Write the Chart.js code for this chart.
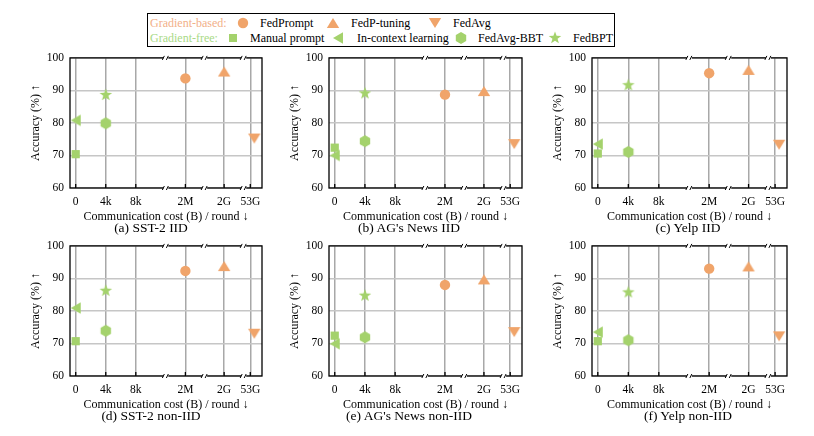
<!DOCTYPE html>
<html><head><meta charset="utf-8">
<script src="https://cdn.jsdelivr.net/npm/chart.js@4.4.0/dist/chart.umd.min.js"></script>
<style>
body{margin:0;width:814px;height:436px;background:#fff;position:relative;overflow:hidden;font-family:'Liberation Serif','Times New Roman',serif;}
canvas.c{position:absolute;}
.cap{position:absolute;font-size:13.5px;line-height:16px;white-space:nowrap;transform:translateX(-50%);color:#000}
#legend{position:absolute;left:147px;top:13px;width:468px;height:34px;border:1px solid #000;box-sizing:border-box}
.lt{position:absolute;font-size:12px;line-height:14px;white-space:nowrap;color:#000}
.lm{position:absolute}
</style></head><body>
<div id="legend"></div>
<script>
// ---- data ----
const methods = ['FedPrompt','FedP-tuning','FedAvg','Manual prompt','In-context learning','FedAvg-BBT','FedBPT'];
const methodGroup = ['Gradient-based','Gradient-based','Gradient-based','Gradient-free','Gradient-free','Gradient-free','Gradient-free'];
const methodCost = ['2M','2G','53G','0','0','4k','4k'];
const costTicks = ['0','4k','8k','2M','2G','53G'];
const accTicks = [60,65,70,75,80,85,90,95,100];
const panelTitles = ['(a) SST-2 IID',"(b) AG's News IID",'(c) Yelp IID','(d) SST-2 non-IID',"(e) AG's News non-IID",'(f) Yelp non-IID'];
const accSST2IID      = [93.7, 95.8, 75.2, 70.4, 80.8, 79.9, 88.6];
const accAGNewsIID    = [88.7, 89.8, 73.5, 72.4, 70.0, 74.4, 89.1];
const accYelpIID      = [95.3, 96.3, 73.3, 70.6, 73.5, 71.1, 91.6];
const accSST2NonIID   = [92.3, 93.8, 73.0, 70.7, 80.9, 73.9, 86.2];
const accAGNewsNonIID = [88.0, 89.7, 73.5, 72.4, 69.9, 71.9, 84.7];
const accYelpNonIID   = [93.0, 93.7, 72.2, 70.7, 73.5, 71.0, 85.7];
const panelData = [accSST2IID, accAGNewsIID, accYelpIID, accSST2NonIID, accAGNewsNonIID, accYelpNonIID];

// ---- axis layout (broken x axis) ----
const costTickPos = [0, 1, 2, 3.65, 4.94, 5.81];
const costBreaks = [3.0, 4.29, 5.59];
const FONT = "'Liberation Serif','Times New Roman',serif";
const ORANGE = '#F0A46A', GREEN = '#A4D26C';
const groupColor = {'Gradient-based': ORANGE, 'Gradient-free': GREEN};
const shapes = ['circle','triUp','triDown','square','triLeft','hex','star'];

function drawShape(ctx, shape, cx, cy, color){
  ctx.fillStyle = color;
  ctx.beginPath();
  if (shape==='circle'){ ctx.arc(cx,cy,5.2,0,Math.PI*2); }
  else if (shape==='square'){ ctx.rect(cx-4,cy-4,8,8); }
  else if (shape==='triUp'){ ctx.moveTo(cx,cy-5); ctx.lineTo(cx+6.2,cy+5); ctx.lineTo(cx-6.2,cy+5); }
  else if (shape==='triDown'){ ctx.moveTo(cx-6.2,cy-5); ctx.lineTo(cx+6.2,cy-5); ctx.lineTo(cx,cy+5); }
  else if (shape==='triLeft'){ ctx.moveTo(cx-5,cy); ctx.lineTo(cx+5,cy-5.7); ctx.lineTo(cx+5,cy+5.7); }
  else if (shape==='hex'){ for(let k=0;k<6;k++){const a=-Math.PI/2+k*Math.PI/3; const px=cx+6*Math.cos(a), py=cy+6*Math.sin(a); k?ctx.lineTo(px,py):ctx.moveTo(px,py);} }
  else if (shape==='star'){ for(let k=0;k<10;k++){const r=k%2?2.7:6.6; const a=-Math.PI/2+k*Math.PI/5; const px=cx+r*Math.cos(a), py=cy+r*Math.sin(a); k?ctx.lineTo(px,py):ctx.moveTo(px,py);} }
  ctx.closePath(); ctx.fill();
}
function markerCanvas(shape, color, dx){
  dx = dx||0;
  const c = document.createElement('canvas');
  c.width = 14 + 2*Math.abs(dx); c.height = 14;
  drawShape(c.getContext('2d'), shape, c.width/2 + dx, 7, color);
  return c;
}
const pointStyles = shapes.map((s,i)=>{
  const col = groupColor[methodGroup[i]];
  if (s==='circle') return 'circle';
  if (s==='square') return 'rect';
  return markerCanvas(s, col, methodCost[i]==='53G' ? 4 : 0);
});

const frame = {
  id:'frame',
  beforeDatasetsDraw(chart){
    const {ctx, chartArea:a, scales:{x}} = chart;
    ctx.save();
    ctx.strokeStyle='#000'; ctx.lineWidth=1.3;
    ctx.strokeRect(a.left, a.top, a.right-a.left, a.bottom-a.top);
    costTickPos.forEach(v=>{const px=x.getPixelForValue(v); ctx.beginPath(); ctx.moveTo(px,a.bottom); ctx.lineTo(px,a.bottom-4); ctx.stroke();});
    costBreaks.forEach(v=>{
      const px=x.getPixelForValue(v);
      [a.top,a.bottom].forEach(py=>{
        ctx.fillStyle='#fff'; ctx.fillRect(px-2.5, py-1.5, 5, 3);
        ctx.lineWidth=1; ctx.strokeStyle='#000'; ctx.beginPath();
        ctx.moveTo(px-3.5,py+2); ctx.lineTo(px-1.5,py-2);
        ctx.moveTo(px+0.5,py+2); ctx.lineTo(px+2.5,py-2);
        ctx.stroke();
      });
    });
    ctx.restore();
  }
};

const cols = [{left:70,w:192},{left:329,w:193},{left:592,w:195}];
const rows = [{top:57,h:131,capY:228},{top:245,h:131,capY:416}];
const capX = [151,409,688];
const TOPOFF = 12;

panelData.forEach((vals, p)=>{
  const col = cols[p%3], row = rows[Math.floor(p/3)];
  const cv = document.createElement('canvas');
  cv.className='c';
  const W = 50 + col.w + 8, H = TOPOFF + row.h + 37;
  cv.width = W; cv.height = H;
  cv.style.left = (col.left-50)+'px'; cv.style.top = (row.top-TOPOFF)+'px';
  document.body.appendChild(cv);
  const cap = document.createElement('div');
  cap.className='cap'; cap.textContent = panelTitles[p];
  cap.style.left = capX[p%3]+'px'; cap.style.top = (row.capY-8)+'px';
  document.body.appendChild(cap);

  new Chart(cv, {
    type:'scatter',
    data:{datasets: methods.map((m,i)=>({
      label:m,
      data:[{x: costTickPos[costTicks.indexOf(methodCost[i])], y: vals[i]}],
      pointStyle: pointStyles[i],
      pointRadius: shapes[i]==='square' ? 5.8 : 5.2,
      backgroundColor: groupColor[methodGroup[i]],
      borderWidth:0, clip:false
    }))},
    options:{
      responsive:false, animation:false, events:[],
      layout:{padding:{top:2,right:8,left:0,bottom:0}},
      plugins:{legend:{display:false}, tooltip:{enabled:false}},
      scales:{
        x:{type:'linear', min:-0.19, max:6.2,
          afterBuildTicks(s){ s.ticks = costTickPos.map(v=>({value:v})); },
          afterFit(s){ s.height = 37; },
          ticks:{autoSkip:false, maxRotation:0, minRotation:0, padding:7, color:'#000', font:{family:FONT,size:11.5},
            callback:(v,i)=>costTicks[i]},
          grid:{color:'#a8a8a8', lineWidth:1.5, drawTicks:false},
          border:{display:false},
          title:{display:true, text:'Communication cost (B) / round ↓', color:'#000', font:{family:FONT,size:12}, padding:{top:0,bottom:1}}
        },
        y:{min:60, max:100,
          afterBuildTicks(s){ s.ticks = accTicks.map(v=>({value:v})); },
          afterFit(s){ s.width = 50; },
          ticks:{padding:6, color:'#000', font:{family:FONT,size:11.5}, callback:(v)=> v%10===0 ? String(v) : ''},
          grid:{color:'#c6c6c6', lineWidth:1.5, drawTicks:false},
          border:{display:false},
          title:{display:true, text:'Accuracy (%) ↑', color:'#000', font:{family:FONT,size:12}, padding:{top:9,bottom:0}}
        }
      }
    },
    plugins:[frame]
  });
});

// ---- legend ----
const legendRows = [
  {y:22.7, label:'Gradient-based:', color:'#F2B088', items:[[0,243,260],[1,333,351],[2,435,453]]},
  {y:37.7, label:'Gradient-free:', color:'#A9DA86', items:[[3,233,250],[4,338,357],[5,461,478],[6,555,573]]}
];
legendRows.forEach(r=>{
  const t = document.createElement('div'); t.className='lt'; t.textContent=r.label; t.style.color=r.color;
  t.style.left='150px'; t.style.top=(r.y-7)+'px'; document.body.appendChild(t);
  r.items.forEach(([i,mx,tx])=>{
    const m = markerCanvas(shapes[i], groupColor[methodGroup[i]], 0); m.className='lm';
    m.style.left=(mx-7)+'px'; m.style.top=(r.y-7)+'px'; document.body.appendChild(m);
    const s = document.createElement('div'); s.className='lt'; s.textContent=methods[i];
    s.style.left=tx+'px'; s.style.top=(r.y-7)+'px'; document.body.appendChild(s);
  });
});
</script>
</body></html>
